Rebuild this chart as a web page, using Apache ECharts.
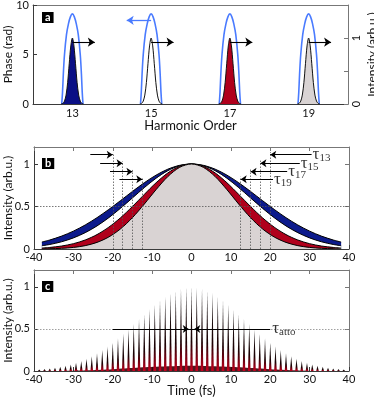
<!DOCTYPE html>
<html><head><meta charset="utf-8">
<script src="https://cdn.jsdelivr.net/npm/echarts@6/dist/echarts.min.js"></script>
<style>html,body{margin:0;padding:0;background:#fff}#c{width:374px;height:398px}</style>
</head><body><div id="c"></div><script>
// ---------- Panel a data ----------
const harmonics = [13, 15, 17, 19];
const harmonicFill = ['#0a0f85', '#ffffff', '#b0001c', '#d9d3d3'];
const phaseOffsets = [-0.27, -0.25, -0.23, -0.2, -0.15, -0.1, -0.05, 0, 0.05, 0.1, 0.15, 0.2, 0.23, 0.25, 0.27];
const phaseShape   = [0, 1.2, 3.0, 5.0, 7.0, 8.1, 8.8, 9.1, 8.8, 8.1, 7.0, 5.0, 3.0, 1.2, 0];
const intensityOffsets = [-0.28, -0.24, -0.2, -0.16, -0.12, -0.08, -0.04, 0, 0.04, 0.08, 0.12, 0.16, 0.2, 0.24, 0.28];
const intensityShape   = [0.002, 0.011, 0.044, 0.135, 0.325, 0.61, 0.88, 1, 0.88, 0.61, 0.325, 0.135, 0.044, 0.011, 0.002];
const intensityArrowLevel = 0.937;
const intensityArrowLength = 0.57;
const phaseArrowLevel = 8.45;
const phaseArrowEnd = 14.38;
const harmonicTicks = [13, 15, 17, 19];

// ---------- Panel b data ----------
const tGrid = [-38, -36, -33, -30, -27, -24, -21, -18, -15, -12, -9, -6, -3, 0, 3, 6, 9, 12, 15, 18, 21, 24, 27, 30, 33, 36, 38];
const env13 = [0.0819, 0.1058, 0.1515, 0.2102, 0.2827, 0.3685, 0.4657, 0.5704, 0.6771, 0.7792, 0.8690, 0.9395, 0.9845, 1, 0.9845, 0.9395, 0.8690, 0.7792, 0.6771, 0.5704, 0.4657, 0.3685, 0.2827, 0.2102, 0.1515, 0.1058, 0.0819];
const env15 = [0.0381, 0.0532, 0.0850, 0.1304, 0.1921, 0.2715, 0.3685, 0.4803, 0.6009, 0.7218, 0.8325, 0.9218, 0.9798, 1, 0.9798, 0.9218, 0.8325, 0.7218, 0.6009, 0.4803, 0.3685, 0.2715, 0.1921, 0.1304, 0.0850, 0.0532, 0.0381];
const env17 = [0.0117, 0.0185, 0.0349, 0.0625, 0.1058, 0.1696, 0.2570, 0.3685, 0.5000, 0.6417, 0.7792, 0.8950, 0.9727, 1, 0.9727, 0.8950, 0.7792, 0.6417, 0.5000, 0.3685, 0.2570, 0.1696, 0.1058, 0.0625, 0.0349, 0.0185, 0.0117];
const env19 = [0.0017, 0.0032, 0.0080, 0.0185, 0.0394, 0.0777, 0.1414, 0.2376, 0.3686, 0.5279, 0.6981, 0.8524, 0.9609, 1, 0.9609, 0.8524, 0.6981, 0.5279, 0.3686, 0.2376, 0.1414, 0.0777, 0.0394, 0.0185, 0.0080, 0.0032, 0.0017];
const envColors = ['#0c1a8c', '#ffffff', '#b0001c', '#d9d3d3'];
const tauNames = ['13', '15', '17', '19'];
const halfLeft = [-20, -17.5, -15, -12.5];
const halfRight = [20, 17.5, 15, 12.5];
const tauLevels = [1.11, 1.01, 0.91, 0.82];
const leftArrowStart = [-25.7, -23.2, -20.7, -18.3];
const rightArrowStart = [30.5, 27.5, 24.3, 20.7];

// ---------- Panel c data ----------
const spikeTimes = [-38.67, -37.33, -36, -34.67, -33.33, -32, -30.67, -29.33, -28, -26.67, -25.33, -24, -22.67, -21.33, -20, -18.67, -17.33, -16, -14.67, -13.33, -12, -10.67, -9.33, -8, -6.67, -5.33, -4, -2.67, -1.33, 0, 1.33, 2.67, 4, 5.33, 6.67, 8, 9.33, 10.67, 12, 13.33, 14.67, 16, 17.33, 18.67, 20, 21.33, 22.67, 24, 25.33, 26.67, 28, 29.33, 30.67, 32, 33.33, 34.67, 36, 37.33, 38.67];
const spikeHeights = [0.0175, 0.0230, 0.0299, 0.0386, 0.0494, 0.0625, 0.0784, 0.0973, 0.1197, 0.1458, 0.1759, 0.2102, 0.2488, 0.2916, 0.3386, 0.3893, 0.4433, 0.5000, 0.5585, 0.6179, 0.6771, 0.7349, 0.7899, 0.8409, 0.8866, 0.9259, 0.9576, 0.9809, 0.9952, 1, 0.9952, 0.9809, 0.9576, 0.9259, 0.8866, 0.8409, 0.7899, 0.7349, 0.6771, 0.6179, 0.5585, 0.5000, 0.4433, 0.3893, 0.3386, 0.2916, 0.2488, 0.2102, 0.1759, 0.1458, 0.1197, 0.0973, 0.0784, 0.0625, 0.0494, 0.0386, 0.0299, 0.0230, 0.0175];
const pedestalTimes = [-32, -26, -20, -14, -8, -3, 0, 3, 8, 14, 20, 26, 32];
const pedestalValues = [0.003, 0.01, 0.022, 0.038, 0.052, 0.06, 0.062, 0.06, 0.052, 0.038, 0.022, 0.01, 0.003];
const attoSpan = [-20, 20];
const attoArrowTips = [-0.7, 0.7];

const FONT = 'Lato';
const AX = '#3a3a3a';

function xAxisBottom(grid, min, max, extra) {
  return Object.assign({
    type: 'value', gridIndex: grid, min: min, max: max, position: 'bottom',
    axisLine: { show: true, onZero: false, lineStyle: { color: AX, width: 1 } },
    axisTick: { show: true, inside: true, length: 4, lineStyle: { color: AX } },
    axisLabel: { color: '#111', fontSize: 11, fontFamily: FONT, margin: 3 },
    nameMoveOverlap: false,
    splitLine: { show: false }
  }, extra);
}
function xAxisTop(grid, min, max, extra) {
  return Object.assign({
    type: 'value', gridIndex: grid, min: min, max: max, position: 'top',
    axisLine: { show: true, onZero: false, lineStyle: { color: '#777', width: 1 } },
    axisTick: { show: true, inside: true, length: 4, lineStyle: { color: '#777' } },
    axisLabel: { show: false }, splitLine: { show: false }
  }, extra);
}
function yAxisLeft(grid, min, max, extra) {
  return Object.assign({
    type: 'value', gridIndex: grid, min: min, max: max, position: 'left',
    axisLine: { show: true, onZero: false, lineStyle: { color: AX, width: 1 } },
    axisTick: { show: true, inside: true, length: 4, lineStyle: { color: AX } },
    axisLabel: { color: '#111', fontSize: 11, fontFamily: FONT, margin: 4 },
    nameLocation: 'middle', nameMoveOverlap: false,
    nameTextStyle: { fontSize: 12, fontFamily: FONT, color: '#111' },
    splitLine: { show: false }
  }, extra);
}
function yAxisRight(grid, min, max, extra) {
  return Object.assign({
    type: 'value', gridIndex: grid, min: min, max: max, position: 'right',
    axisLine: { show: true, onZero: false, lineStyle: { color: '#777', width: 1 } },
    axisTick: { show: true, inside: true, length: 4, lineStyle: { color: '#777' } },
    axisLabel: { show: false }, splitLine: { show: false }, nameMoveOverlap: false
  }, extra);
}

const series = [];

// Panel a: phase curves (left axis)
harmonics.forEach(function (h, i) {
  series.push({
    type: 'line', xAxisIndex: 0, yAxisIndex: 0, smooth: 0.35, symbol: 'none', z: 2,
    data: phaseOffsets.map(function (o, k) { return [h + o, phaseShape[k]]; }),
    lineStyle: { color: '#4a7bff', width: 1.6 },
    markLine: i === 1 ? {
      silent: true, symbol: ['none', 'arrow'], symbolSize: 7, label: { show: false },
      lineStyle: { color: '#4a7bff', width: 1.3, type: 'solid' },
      data: [[{ coord: [h, phaseArrowLevel] }, { coord: [phaseArrowEnd, phaseArrowLevel] }]]
    } : undefined
  });
});
// Panel a: intensity peaks (right axis)
harmonics.forEach(function (h, i) {
  series.push({
    type: 'line', xAxisIndex: 0, yAxisIndex: 1, smooth: 0.3, symbol: 'none', z: 3,
    data: intensityOffsets.map(function (o, k) { return [h + o, intensityShape[k]]; }),
    lineStyle: { color: '#111', width: 1 },
    areaStyle: { color: harmonicFill[i], opacity: 1 },
    markLine: {
      silent: true, symbol: ['none', 'arrow'], symbolSize: 7, label: { show: false },
      lineStyle: { color: '#000', width: 1.1, type: 'solid' },
      data: [[{ coord: [h, intensityArrowLevel] }, { coord: [h + intensityArrowLength, intensityArrowLevel] }]]
    }
  });
});

// Panel b: envelopes
[env13, env15, env17, env19].forEach(function (env, i) {
  series.push({
    type: 'line', xAxisIndex: 2, yAxisIndex: 2, smooth: 0.3, symbol: 'none', z: 2 + i * 0.01,
    data: tGrid.map(function (t, k) { return [t, env[k]]; }),
    lineStyle: { color: '#000', width: 1 },
    areaStyle: { color: envColors[i], opacity: 1 }
  });
});
// Panel b: dotted guide lines
const bDottedData = [];
halfLeft.forEach(function (x, i) { bDottedData.push([{ coord: [x, 0] }, { coord: [x, tauLevels[i] + 0.02] }]); });
halfRight.forEach(function (x, i) { bDottedData.push([{ coord: [x, 0] }, { coord: [x, tauLevels[i] + 0.03] }]); });
bDottedData.push([{ coord: [-40, 0.5] }, { coord: [40, 0.5] }]);
const bArrows = [];
halfLeft.forEach(function (x, i) { bArrows.push([{ coord: [leftArrowStart[i], tauLevels[i]] }, { coord: [x, tauLevels[i]] }]); });
halfRight.forEach(function (x, i) { bArrows.push([{ coord: [rightArrowStart[i], tauLevels[i]] }, { coord: [x, tauLevels[i]] }]); });
const tauRich = {
  t: { fontFamily: 'Liberation Serif', fontSize: 17, color: '#000', lineHeight: 18, verticalAlign: 'middle' },
  s: { fontFamily: 'Liberation Serif', fontSize: 11, color: '#000', lineHeight: 18, verticalAlign: 'bottom', padding: [8, 0, 0, 0] }
};
series.push({
  type: 'scatter', xAxisIndex: 2, yAxisIndex: 2, symbolSize: 0, z: 10, silent: true,
  data: rightArrowStart.map(function (x, i) { return { value: [x, tauLevels[i]], name: tauNames[i] }; }),
  label: {
    show: true, position: 'right', distance: 1,
    formatter: function (p) { return '{t|τ}{s|' + p.name + '}'; },
    rich: tauRich
  },
  markLine: {
    silent: true, symbol: 'none', label: { show: false },
    lineStyle: { color: '#555', width: 0.8, type: [1.5, 1.5] },
    data: bDottedData
  }
});
series.push({
  type: 'line', xAxisIndex: 2, yAxisIndex: 2, data: [], symbol: 'none', z: 11,
  markLine: {
    silent: true, symbol: ['none', 'arrow'], symbolSize: 6, label: { show: false },
    lineStyle: { color: '#000', width: 1, type: 'solid' }, data: bArrows
  }
});

// Panel c: pedestal + spikes
series.push({
  type: 'line', xAxisIndex: 4, yAxisIndex: 4, smooth: 0.4, symbol: 'none', z: 2,
  data: pedestalTimes.map(function (t, k) { return [t, pedestalValues[k]]; }),
  lineStyle: { width: 0 }, areaStyle: { color: '#3a0008', opacity: 0.9 }
});
series.push({
  type: 'custom', xAxisIndex: 4, yAxisIndex: 4, z: 3,
  data: spikeTimes.map(function (t, k) { return [t, spikeHeights[k]]; }),
  renderItem: function (params, api) {
    const top = api.coord([api.value(0), api.value(1)]);
    const bot = api.coord([api.value(0), 0]);
    const hw = 1.3;
    return {
      type: 'polygon',
      shape: { points: [[bot[0] - hw, bot[1]], [top[0], top[1]], [bot[0] + hw, bot[1]]] },
      style: {
        fill: new echarts.graphic.LinearGradient(0, 0, 0, 1, [
          { offset: 0, color: '#1a1a1a' }, { offset: 0.65, color: '#1c0204' }, { offset: 1, color: '#cc001e' }]),
        stroke: null
      }
    };
  }
});
series.push({
  type: 'scatter', xAxisIndex: 4, yAxisIndex: 4, symbolSize: 0, z: 10, silent: true,
  data: [{ value: [attoSpan[1], 0.5], name: 'atto' }],
  label: { show: true, position: 'right', distance: 2, formatter: '{t|τ}{s|atto}', rich: tauRich },
  markLine: {
    silent: true, symbol: 'none', label: { show: false },
    data: [
      [{ coord: [-40, 0.5], lineStyle: { color: '#888', width: 0.8, type: [1.5, 1.5] } }, { coord: [40, 0.5] }],
      [{ coord: [attoSpan[0], 0.5], lineStyle: { color: '#000', width: 1.1, type: 'solid' } }, { coord: [attoSpan[1], 0.5] }]
    ]
  }
});
series.push({
  type: 'line', xAxisIndex: 4, yAxisIndex: 4, data: [], symbol: 'none', z: 11,
  markLine: {
    silent: true, symbol: ['none', 'arrow'], symbolSize: 6, label: { show: false },
    lineStyle: { color: '#000', width: 1.1, type: 'solid' },
    data: [
      [{ coord: [attoArrowTips[0] - 1.6, 0.5] }, { coord: [attoArrowTips[0], 0.5] }],
      [{ coord: [attoArrowTips[1] + 1.6, 0.5] }, { coord: [attoArrowTips[1], 0.5] }]
    ]
  }
});

function panelTitle(letter, x, y) {
  return {
    text: letter, left: x, top: y, padding: [0, 3, 0, 3], backgroundColor: '#000', z: 100,
    textStyle: { color: '#fff', fontSize: 11, fontWeight: 'bold', fontFamily: FONT, lineHeight: 11 }
  };
}

const option = {
  animation: false,
  backgroundColor: '#fff',
  title: [panelTitle('a', 42, 12), panelTitle('b', 42, 158), panelTitle('c', 42, 281)],
  grid: [
    { left: 33, top: 5, width: 315, height: 99, containLabel: false, outerBoundsMode: 'none' },
    { left: 34, top: 147, width: 315, height: 102, containLabel: false, outerBoundsMode: 'none' },
    { left: 34, top: 270, width: 315, height: 101, containLabel: false, outerBoundsMode: 'none' }
  ],
  xAxis: [
    xAxisBottom(0, 12, 20, {
      name: 'Harmonic Order', nameLocation: 'middle', nameGap: 15,
      nameTextStyle: { fontSize: 13, fontFamily: FONT, color: '#111' },
      axisTick: { show: true, inside: true, length: 4, lineStyle: { color: AX }, customValues: harmonicTicks },
      axisLabel: { color: '#111', fontSize: 11, fontFamily: FONT, margin: 4, customValues: harmonicTicks }
    }),
    xAxisTop(0, 12, 20, { axisTick: { show: false } }),
    xAxisBottom(1, -40, 40, { interval: 10 }),
    xAxisTop(1, -40, 40, { interval: 10 }),
    xAxisBottom(2, -40, 40, {
      interval: 10, name: 'Time (fs)', nameLocation: 'middle', nameGap: 13,
      nameTextStyle: { fontSize: 13, fontFamily: FONT, color: '#111' }
    }),
    xAxisTop(2, -40, 40, { interval: 10 })
  ],
  yAxis: [
    yAxisLeft(0, 0, 10, { interval: 5, name: 'Phase (rad)', nameGap: 19 }),
    yAxisRight(0, 0, 1.5, {
      interval: 0.5, name: 'Intensity (arb.u.)', nameLocation: 'middle', nameGap: 18,
      nameTextStyle: { fontSize: 12, fontFamily: FONT, color: '#111' },
      axisTick: { show: true, inside: true, length: 4, lineStyle: { color: '#777' } },
      axisLabel: {
        show: true, rotate: 90, color: '#111', fontSize: 11, fontFamily: FONT, margin: 3,
        formatter: function (v) { return (v === 0 || v === 1) ? String(v) : ''; }
      }
    }),
    yAxisLeft(1, 0, 1.2, {
      name: 'Intensity (arb.u.)', nameGap: 20,
      axisTick: { show: true, inside: true, length: 4, lineStyle: { color: AX }, customValues: [0, 0.5, 1] },
      axisLabel: { color: '#111', fontSize: 11, fontFamily: FONT, margin: 4, customValues: [0, 0.5, 1] }
    }),
    yAxisRight(1, 0, 1.2, { axisTick: { show: true, inside: true, length: 4, lineStyle: { color: '#777' }, customValues: [0.5, 1] } }),
    yAxisLeft(2, 0, 1.2, {
      name: 'Intensity (arb.u.)', nameGap: 20,
      axisTick: { show: true, inside: true, length: 4, lineStyle: { color: AX }, customValues: [0, 0.5, 1] },
      axisLabel: { color: '#111', fontSize: 11, fontFamily: FONT, margin: 4, customValues: [0, 0.5, 1] }
    }),
    yAxisRight(2, 0, 1.2, { axisTick: { show: true, inside: true, length: 4, lineStyle: { color: '#777' }, customValues: [0.5, 1] } })
  ],
  series: series
};

const chart = echarts.init(document.getElementById('c'), null, { renderer: 'canvas' });
chart.setOption(option);
</script></body></html>
